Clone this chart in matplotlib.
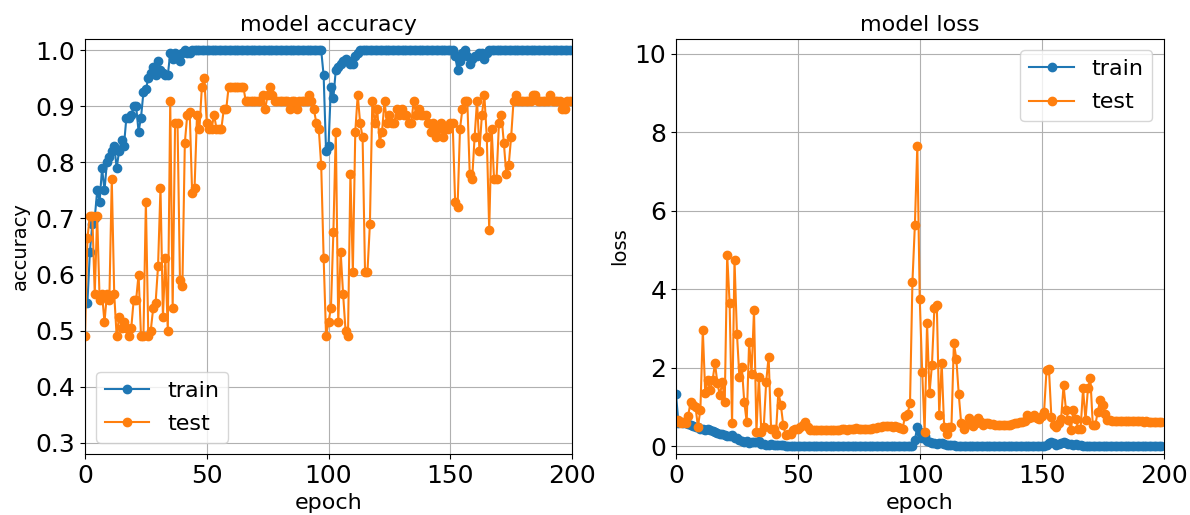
import matplotlib
matplotlib.use("Agg")
import matplotlib.pyplot as plt

epochs = list(range(200))

train_acc = [
    0.55, 0.55, 0.64, 0.69, 0.70, 0.75, 0.73, 0.79, 0.75, 0.80,
    0.81, 0.82, 0.83, 0.79, 0.82, 0.84, 0.83, 0.88, 0.88, 0.885,
    0.90, 0.90, 0.855, 0.88, 0.925, 0.93, 0.95, 0.96, 0.97, 0.955,
    0.98, 0.965, 0.96, 0.955, 0.955, 0.995, 0.985, 0.995, 0.99, 0.98,
    0.995, 1.0, 0.995, 0.995, 1.0, 1.0, 1.0, 1.0, 1.0, 1.0,
    1.0, 1.0, 1.0, 1.0, 1.0, 1.0, 1.0, 1.0, 1.0, 1.0,
    1.0, 1.0, 1.0, 1.0, 1.0, 1.0, 1.0, 1.0, 1.0, 1.0,
    1.0, 1.0, 1.0, 1.0, 1.0, 1.0, 1.0, 1.0, 1.0, 1.0,
    1.0, 1.0, 1.0, 1.0, 1.0, 1.0, 1.0, 1.0, 1.0, 1.0,
    1.0, 1.0, 1.0, 1.0, 1.0, 1.0, 1.0, 1.0, 0.955, 0.82,
    0.83, 0.935, 0.915, 0.965, 0.97, 0.975, 0.98, 0.985, 0.98, 0.975,
    0.975, 0.99, 0.995, 1.0, 1.0, 1.0, 1.0, 1.0, 1.0, 1.0,
    1.0, 1.0, 1.0, 1.0, 1.0, 1.0, 1.0, 1.0, 1.0, 1.0,
    1.0, 1.0, 1.0, 1.0, 1.0, 1.0, 1.0, 1.0, 1.0, 1.0,
    1.0, 1.0, 1.0, 1.0, 1.0, 1.0, 1.0, 1.0, 1.0, 1.0,
    1.0, 1.0, 0.99, 0.965, 0.98, 0.995, 1.0, 0.99, 0.975, 0.985,
    0.99, 0.99, 0.995, 0.995, 0.985, 0.995, 1.0, 1.0, 1.0, 1.0,
    1.0, 1.0, 1.0, 1.0, 1.0, 1.0, 1.0, 1.0, 1.0, 1.0,
    1.0, 1.0, 1.0, 1.0, 1.0, 1.0, 1.0, 1.0, 1.0, 1.0,
    1.0, 1.0, 1.0, 1.0, 1.0, 1.0, 1.0, 1.0, 1.0, 1.0,
]

test_acc = [
    0.49, 0.665, 0.705, 0.705, 0.565, 0.705, 0.555, 0.565, 0.515, 0.565,
    0.555, 0.77, 0.565, 0.49, 0.525, 0.505, 0.515, 0.505, 0.49, 0.505,
    0.555, 0.555, 0.60, 0.49, 0.49, 0.73, 0.49, 0.50, 0.54, 0.55,
    0.615, 0.755, 0.525, 0.63, 0.50, 0.91, 0.54, 0.87, 0.87, 0.59,
    0.58, 0.835, 0.885, 0.89, 0.745, 0.755, 0.885, 0.86, 0.935, 0.95,
    0.87, 0.86, 0.86, 0.885, 0.86, 0.86, 0.86, 0.895, 0.895, 0.935,
    0.935, 0.935, 0.935, 0.935, 0.935, 0.935, 0.91, 0.91, 0.91, 0.91,
    0.91, 0.91, 0.91, 0.92, 0.895, 0.92, 0.935, 0.92, 0.91, 0.91,
    0.91, 0.91, 0.91, 0.91, 0.895, 0.91, 0.91, 0.895, 0.91, 0.91,
    0.91, 0.91, 0.92, 0.91, 0.895, 0.87, 0.86, 0.795, 0.63, 0.49,
    0.515, 0.54, 0.675, 0.855, 0.515, 0.64, 0.565, 0.50, 0.49, 0.78,
    0.605, 0.855, 0.92, 0.87, 0.845, 0.605, 0.605, 0.69, 0.91, 0.87,
    0.895, 0.835, 0.855, 0.91, 0.87, 0.885, 0.87, 0.87, 0.895, 0.885,
    0.895, 0.885, 0.885, 0.87, 0.87, 0.91, 0.885, 0.895, 0.885, 0.885,
    0.885, 0.87, 0.855, 0.87, 0.845, 0.86, 0.87, 0.845, 0.86, 0.86,
    0.87, 0.87, 0.73, 0.72, 0.86, 0.895, 0.91, 0.91, 0.78, 0.77,
    0.845, 0.91, 0.82, 0.885, 0.92, 0.845, 0.68, 0.86, 0.77, 0.77,
    0.87, 0.885, 0.835, 0.78, 0.795, 0.845, 0.91, 0.92, 0.91, 0.91,
    0.91, 0.91, 0.91, 0.91, 0.92, 0.92, 0.91, 0.91, 0.91, 0.91,
    0.91, 0.92, 0.91, 0.91, 0.91, 0.91, 0.895, 0.895, 0.91, 0.91,
]

train_loss = [
    1.32, 0.60, 0.62, 0.58, 0.60, 0.56, 0.55, 0.52, 0.50, 0.50,
    0.45, 0.44, 0.42, 0.43, 0.40, 0.38, 0.37, 0.34, 0.32, 0.30,
    0.28, 0.27, 0.25, 0.29, 0.22, 0.20, 0.16, 0.13, 0.10, 0.12,
    0.08, 0.10, 0.11, 0.11, 0.12, 0.05, 0.06, 0.04, 0.04, 0.05,
    0.03, 0.02, 0.03, 0.02, 0.02, 0.01, 0.01, 0.01, 0.01, 0.01,
    0.01, 0.01, 0.008, 0.008, 0.008, 0.007, 0.007, 0.007, 0.006, 0.006,
    0.006, 0.006, 0.005, 0.005, 0.005, 0.005, 0.005, 0.005, 0.004, 0.004,
    0.004, 0.004, 0.004, 0.004, 0.004, 0.004, 0.003, 0.003, 0.003, 0.003,
    0.003, 0.003, 0.003, 0.003, 0.003, 0.003, 0.003, 0.003, 0.003, 0.003,
    0.003, 0.003, 0.003, 0.003, 0.003, 0.003, 0.003, 0.01, 0.15, 0.50,
    0.35, 0.22, 0.25, 0.12, 0.10, 0.08, 0.07, 0.06, 0.08, 0.07,
    0.06, 0.04, 0.03, 0.02, 0.02, 0.015, 0.01, 0.01, 0.01, 0.01,
    0.008, 0.008, 0.007, 0.007, 0.007, 0.006, 0.006, 0.006, 0.005, 0.005,
    0.005, 0.005, 0.005, 0.005, 0.004, 0.004, 0.004, 0.004, 0.004, 0.004,
    0.004, 0.004, 0.004, 0.004, 0.004, 0.004, 0.004, 0.004, 0.004, 0.004,
    0.004, 0.01, 0.03, 0.09, 0.11, 0.07, 0.04, 0.05, 0.08, 0.11,
    0.08, 0.06, 0.05, 0.04, 0.05, 0.03, 0.02, 0.01, 0.01, 0.01,
    0.008, 0.007, 0.006, 0.005, 0.005, 0.005, 0.004, 0.004, 0.004, 0.004,
    0.004, 0.004, 0.003, 0.003, 0.003, 0.003, 0.003, 0.003, 0.003, 0.003,
    0.003, 0.003, 0.003, 0.003, 0.003, 0.003, 0.003, 0.003, 0.003, 0.003,
]

test_loss = [
    0.62, 0.66, 0.58, 0.62, 0.60, 0.78, 1.13, 1.05, 1.00, 0.50,
    0.92, 2.96, 1.35, 1.68, 1.43, 1.68, 2.11, 1.60, 1.30, 1.64,
    1.13, 4.87, 3.64, 0.58, 4.74, 2.87, 1.77, 2.02, 1.13, 0.62,
    2.66, 1.85, 3.47, 0.37, 1.77, 0.37, 0.49, 1.64, 2.28, 0.45,
    0.45, 0.32, 1.39, 1.05, 0.54, 0.28, 0.32, 0.30, 0.40, 0.45,
    0.45, 0.48, 0.55, 0.62, 0.50, 0.42, 0.40, 0.40, 0.40, 0.40,
    0.40, 0.40, 0.41, 0.41, 0.41, 0.42, 0.42, 0.42, 0.43, 0.43,
    0.42, 0.43, 0.44, 0.44, 0.46, 0.44, 0.44, 0.45, 0.45, 0.44,
    0.45, 0.46, 0.47, 0.48, 0.50, 0.51, 0.52, 0.52, 0.51, 0.50,
    0.51, 0.50, 0.46, 0.45, 0.78, 0.83, 1.09, 4.19, 5.64, 7.65,
    3.74, 1.90, 0.36, 3.13, 1.35, 2.07, 3.51, 3.60, 0.79, 2.13,
    0.49, 0.32, 0.49, 0.49, 2.63, 2.23, 1.32, 0.58, 0.45, 0.55,
    0.71, 0.58, 0.51, 0.60, 0.73, 0.62, 0.53, 0.58, 0.59, 0.57,
    0.56, 0.55, 0.54, 0.53, 0.54, 0.53, 0.54, 0.53, 0.56, 0.58,
    0.60, 0.62, 0.62, 0.65, 0.79, 0.72, 0.75, 0.79, 0.72, 0.70,
    0.76, 0.87, 1.93, 1.97, 0.74, 0.53, 0.49, 0.58, 0.70, 1.55,
    0.92, 0.66, 0.41, 0.92, 0.70, 0.45, 0.45, 1.47, 0.66, 1.47,
    1.73, 0.53, 0.53, 0.87, 1.17, 1.04, 0.83, 0.66, 0.66, 0.65,
    0.65, 0.65, 0.64, 0.64, 0.65, 0.64, 0.64, 0.63, 0.63, 0.64,
    0.63, 0.63, 0.62, 0.63, 0.62, 0.62, 0.62, 0.61, 0.62, 0.62,
]

series_names = ["train", "test"]
acc_ticks = [0.3, 0.4, 0.5, 0.6, 0.7, 0.8, 0.9, 1.0]
loss_ticks = [0, 2, 4, 6, 8, 10]
epoch_ticks = [0, 50, 100, 150, 200]

W, H = 1190, 515
fig = plt.figure(figsize=(W / 100, H / 100), dpi=100)
ax1 = fig.add_axes([85 / W, (H - 454) / H, 487 / W, 415 / H])
ax2 = fig.add_axes([676 / W, (H - 454) / H, 487.5 / W, 415 / H])

tick_fs = 18
xlabel_fs = 16
ylabel_fs = 14
title_fs = 16
legend_fs = 16

# accuracy panel
ax1.plot(epochs, train_acc, marker="o", color="#1f77b4", label=series_names[0])
ax1.plot(epochs, test_acc, marker="o", color="#ff7f0e", label=series_names[1])
ax1.set_xlim(0, 200)
ax1.set_ylim(0.28, 1.02)
ax1.set_yticks(acc_ticks)
ax1.set_yticklabels([f"{t:.1f}" for t in acc_ticks])
ax1.set_xticks(epoch_ticks)
ax1.set_title("model accuracy", fontsize=title_fs)
ax1.set_xlabel("epoch", fontsize=xlabel_fs)
ax1.set_ylabel("accuracy", fontsize=ylabel_fs)
ax1.grid(True, color="#b0b0b0", linewidth=0.8)
ax1.tick_params(labelsize=tick_fs)
ax1.legend(loc="lower left", fontsize=legend_fs, labelspacing=0.6)

# loss panel
ax2.plot(epochs, train_loss, marker="o", color="#1f77b4", label=series_names[0])
ax2.plot(epochs, test_loss, marker="o", color="#ff7f0e", label=series_names[1])
ax2.set_xlim(0, 200)
ax2.set_ylim(-0.2, 10.38)
ax2.set_yticks(loss_ticks)
ax2.set_xticks(epoch_ticks)
ax2.set_title("model loss", fontsize=title_fs)
ax2.set_xlabel("epoch", fontsize=xlabel_fs)
ax2.set_ylabel("loss", fontsize=ylabel_fs)
ax2.grid(True, color="#b0b0b0", linewidth=0.8)
ax2.tick_params(labelsize=tick_fs)
ax2.legend(loc="upper right", fontsize=legend_fs, labelspacing=0.6)

fig.savefig("out.png", dpi=100)
